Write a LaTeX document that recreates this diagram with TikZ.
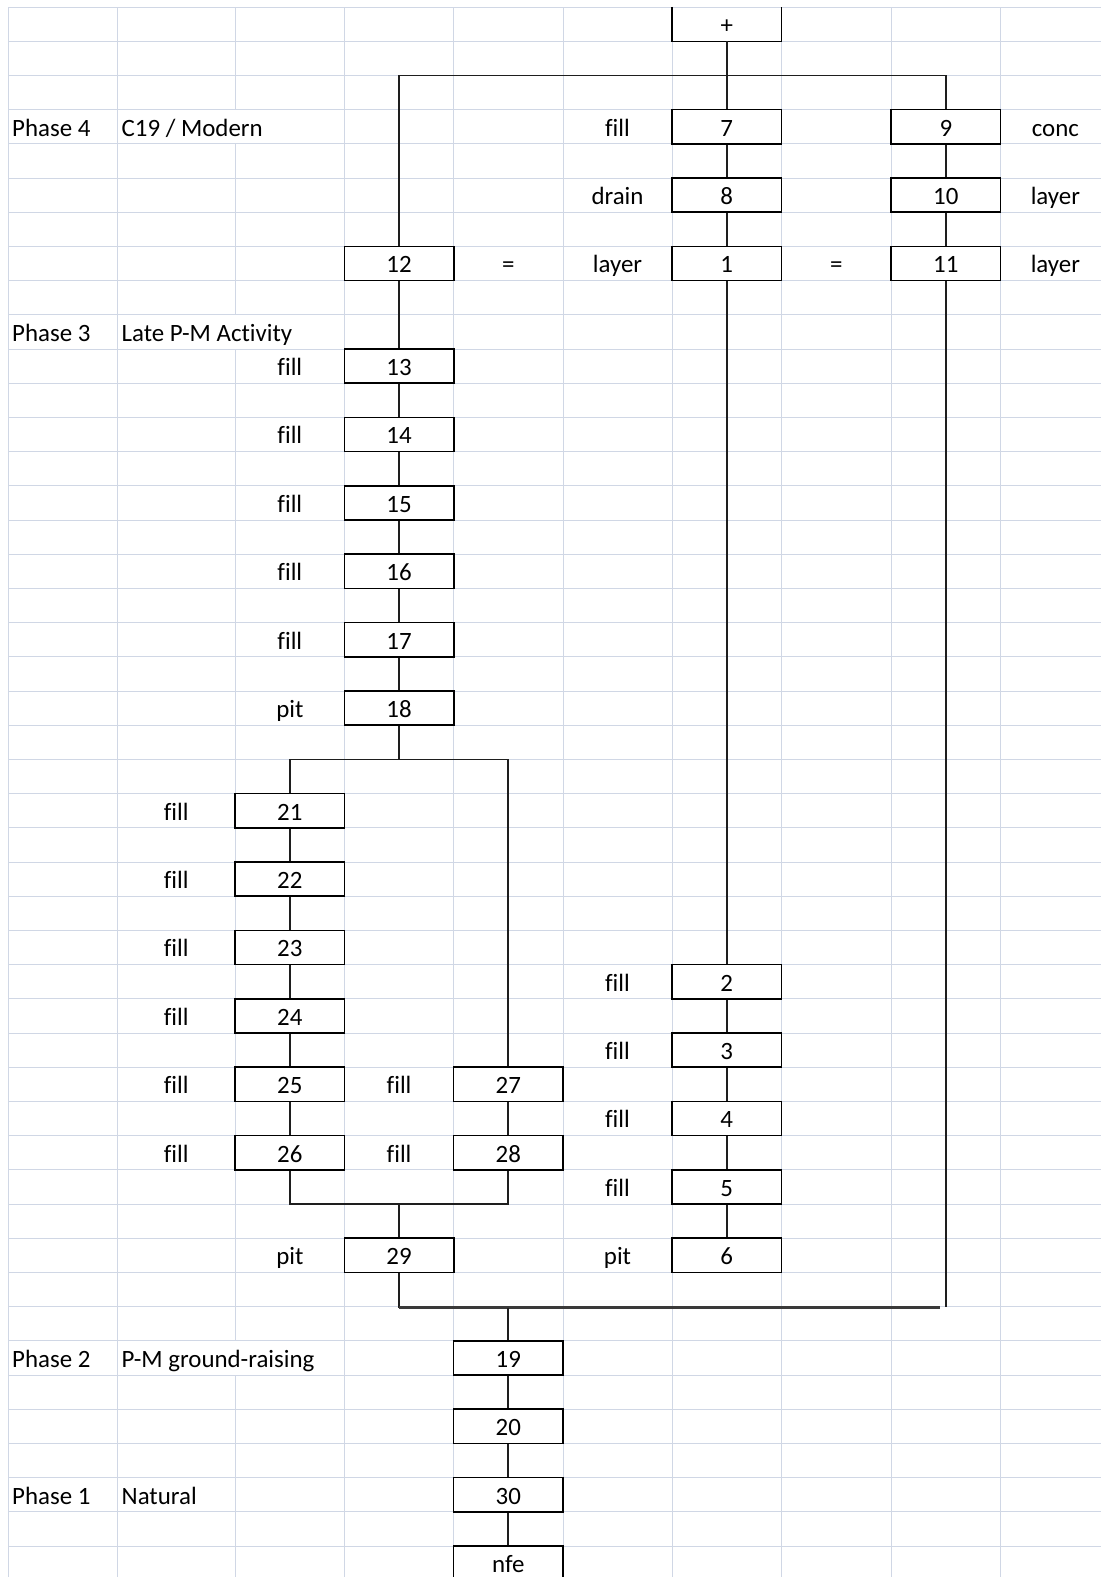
\documentclass[tikz,border=0pt]{standalone}
\usepackage{fontspec}
\setmainfont{Carlito}[Ligatures=NoCommon]
\newcommand\cellfont{\fontsize{24.9}{30}\selectfont}
\definecolor{gridc}{HTML}{D0D7E5}
\definecolor{linec}{HTML}{1E1E1E}
\definecolor{bottomc}{HTML}{3A3A3A}
\begin{document}
\begin{tikzpicture}[x=1pt,y=-1pt,
  declare function={ry(\k)=7+34.2*\k; rc(\k)=24.1+34.2*\k;},
  gridl/.style={draw=gridc, line width=1pt},
  cellbox/.style={draw=black, line width=1.6pt, minimum width=109.2pt, minimum height=34.2pt, inner sep=0pt, text height=20pt, text depth=1.2pt, font=\cellfont},
  lbl/.style={inner sep=0pt, text height=20pt, text depth=1.2pt, font=\cellfont},
  lleft/.style={lbl, anchor=west},
  conn/.style={draw=linec, line width=1.6pt},
  connb/.style={draw=bottomc, line width=2.4pt}]
\fill[white] (0,0) rectangle (1101,1577);
\useasboundingbox (0,0) rectangle (1101,1577);
% grid
\foreach \k in {0,...,45} \draw[gridl] (8,{ry(\k)}) -- (1101,{ry(\k)});
\foreach \xx in {8,117.5,344.7,453.5,563,672,781.5,891,1000.7} \draw[gridl] (\xx,{ry(0)}) -- (\xx,1577);
\draw[gridl] (235,{ry(0)}) -- (235,{ry(3)});
\draw[gridl] (235,{ry(4)}) -- (235,{ry(9)});
\draw[gridl] (235,{ry(10)}) -- (235,{ry(39)});
\draw[gridl] (235,{ry(40)}) -- (235,1577);
% boxes
\node[lbl, minimum width=109.2pt, minimum height=34.2pt] (bplus) at (726.75,{rc(0)}) {+};
\draw[draw=black, line width=1.6pt] (bplus.north west) -- (bplus.south west) -- (bplus.south east) -- (bplus.north east);
\node[cellbox] (b7) at (726.75,{rc(3)}) {7};
\node[cellbox] (b9) at (945.85,{rc(3)}) {9};
\node[cellbox] (b8) at (726.75,{rc(5)}) {8};
\node[cellbox] (b10) at (945.85,{rc(5)}) {10};
\node[cellbox] (b12) at (399.1,{rc(7)}) {12};
\node[cellbox] (b1) at (726.75,{rc(7)}) {1};
\node[cellbox] (b11) at (945.85,{rc(7)}) {11};
\node[cellbox] (b13) at (399.1,{rc(10)}) {13};
\node[cellbox] (b14) at (399.1,{rc(12)}) {14};
\node[cellbox] (b15) at (399.1,{rc(14)}) {15};
\node[cellbox] (b16) at (399.1,{rc(16)}) {16};
\node[cellbox] (b17) at (399.1,{rc(18)}) {17};
\node[cellbox] (b18) at (399.1,{rc(20)}) {18};
\node[cellbox] (b21) at (289.85,{rc(23)}) {21};
\node[cellbox] (b22) at (289.85,{rc(25)}) {22};
\node[cellbox] (b23) at (289.85,{rc(27)}) {23};
\node[cellbox] (b24) at (289.85,{rc(29)}) {24};
\node[cellbox] (b25) at (289.85,{rc(31)}) {25};
\node[cellbox] (b26) at (289.85,{rc(33)}) {26};
\node[cellbox] (b27) at (508.25,{rc(31)}) {27};
\node[cellbox] (b28) at (508.25,{rc(33)}) {28};
\node[cellbox] (b2) at (726.75,{rc(28)}) {2};
\node[cellbox] (b3) at (726.75,{rc(30)}) {3};
\node[cellbox] (b4) at (726.75,{rc(32)}) {4};
\node[cellbox] (b5) at (726.75,{rc(34)}) {5};
\node[cellbox] (b6) at (726.75,{rc(36)}) {6};
\node[cellbox] (b29) at (399.1,{rc(36)}) {29};
\node[cellbox] (b19) at (508.25,{rc(39)}) {19};
\node[cellbox] (b20) at (508.25,{rc(41)}) {20};
\node[cellbox] (b30) at (508.25,{rc(43)}) {30};
\node[cellbox] (bnfe) at (508.25,{rc(45)}) {nfe};
% labels
\node[lleft] (p4) at (12,{rc(3)}) {Phase 4};
\node[lleft] (p4t) at (121.5,{rc(3)}) {C19 / Modern};
\node[lbl] (l7) at (617.5,{rc(3)}) {fill};
\node[lbl] (l9) at (1055.35,{rc(3)}) {conc};
\node[lbl] (l8) at (617.5,{rc(5)}) {drain};
\node[lbl] (l10) at (1055.35,{rc(5)}) {layer};
\node[lbl] (eq1) at (508.25,{rc(7)}) {=};
\node[lbl] (l1) at (617.5,{rc(7)}) {layer};
\node[lbl] (eq2) at (836.25,{rc(7)}) {=};
\node[lbl] (l11) at (1055.35,{rc(7)}) {layer};
\node[lleft] (p3) at (12,{rc(9)}) {Phase 3};
\node[lleft] (p3t) at (121.5,{rc(9)}) {Late P-M Activity};
\node[lbl] (l13) at (289.85,{rc(10)}) {fill};
\node[lbl] (l14) at (289.85,{rc(12)}) {fill};
\node[lbl] (l15) at (289.85,{rc(14)}) {fill};
\node[lbl] (l16) at (289.85,{rc(16)}) {fill};
\node[lbl] (l17) at (289.85,{rc(18)}) {fill};
\node[lbl] (l18) at (289.85,{rc(20)}) {pit};
\node[lbl] (l21) at (176.25,{rc(23)}) {fill};
\node[lbl] (l22) at (176.25,{rc(25)}) {fill};
\node[lbl] (l23) at (176.25,{rc(27)}) {fill};
\node[lbl] (l24) at (176.25,{rc(29)}) {fill};
\node[lbl] (l25) at (176.25,{rc(31)}) {fill};
\node[lbl] (l26) at (176.25,{rc(33)}) {fill};
\node[lbl] (l27) at (399.1,{rc(31)}) {fill};
\node[lbl] (l28) at (399.1,{rc(33)}) {fill};
\node[lbl] (l2) at (617.5,{rc(28)}) {fill};
\node[lbl] (l3) at (617.5,{rc(30)}) {fill};
\node[lbl] (l4) at (617.5,{rc(32)}) {fill};
\node[lbl] (l5) at (617.5,{rc(34)}) {fill};
\node[lbl] (l6) at (617.5,{rc(36)}) {pit};
\node[lbl] (l29) at (289.85,{rc(36)}) {pit};
\node[lleft] (p2) at (12,{rc(39)}) {Phase 2};
\node[lleft] (p2t) at (121.5,{rc(39)}) {P-M ground-raising};
\node[lleft] (p1) at (12,{rc(43)}) {Phase 1};
\node[lleft] (p1t) at (121.5,{rc(43)}) {Natural};
% junction coordinates
\coordinate (jl) at (399.1,{ry(2)});
\coordinate (jr) at (945.85,{ry(2)});
\coordinate (j18) at (399.1,{ry(22)});
\coordinate (j18l) at (289.85,{ry(22)});
\coordinate (j18r) at (508.25,{ry(22)});
\coordinate (j29l) at (289.85,{ry(35)});
\coordinate (j29r) at (508.25,{ry(35)});
\coordinate (j29) at (399.1,{ry(35)});
\coordinate (jb) at (399.1,{ry(38)+1});
\coordinate (jbe) at (940,{ry(38)+1});
\coordinate (jbi) at (945.85,{ry(38)});
\coordinate (j19) at (508.25,{ry(38)+1});
% connectors
\draw[conn] (bplus) -- (b7);
\draw[conn] (b12) -- (jl) -- (jr) -- (b9);
\draw[conn] (b7) -- (b8);
\draw[conn] (b8) -- (b1);
\draw[conn] (b9) -- (b10);
\draw[conn] (b10) -- (b11);
\draw[conn] (b12) -- (b13);
\draw[conn] (b13) -- (b14);
\draw[conn] (b14) -- (b15);
\draw[conn] (b15) -- (b16);
\draw[conn] (b16) -- (b17);
\draw[conn] (b17) -- (b18);
\draw[conn] (b1) -- (b2);
\draw[conn] (b2) -- (b3);
\draw[conn] (b3) -- (b4);
\draw[conn] (b4) -- (b5);
\draw[conn] (b5) -- (b6);
\draw[conn] (b18) -- (j18);
\draw[conn] (b21) -- (j18l) -- (j18r) -- (b27);
\draw[conn] (b21) -- (b22);
\draw[conn] (b22) -- (b23);
\draw[conn] (b23) -- (b24);
\draw[conn] (b24) -- (b25);
\draw[conn] (b25) -- (b26);
\draw[conn] (b27) -- (b28);
\draw[conn] (b26) -- (j29l) -- (j29r) -- (b28);
\draw[conn] (j29) -- (b29);
\draw[conn] (b29) -- (jb);
\draw[connb] (jb) -- (jbe);
\draw[conn] (b11) -- (jbi);
\draw[conn] (j19) -- (b19);
\draw[conn] (b19) -- (b20);
\draw[conn] (b20) -- (b30);
\draw[conn] (b30) -- (bnfe);
\end{tikzpicture}
\end{document}
